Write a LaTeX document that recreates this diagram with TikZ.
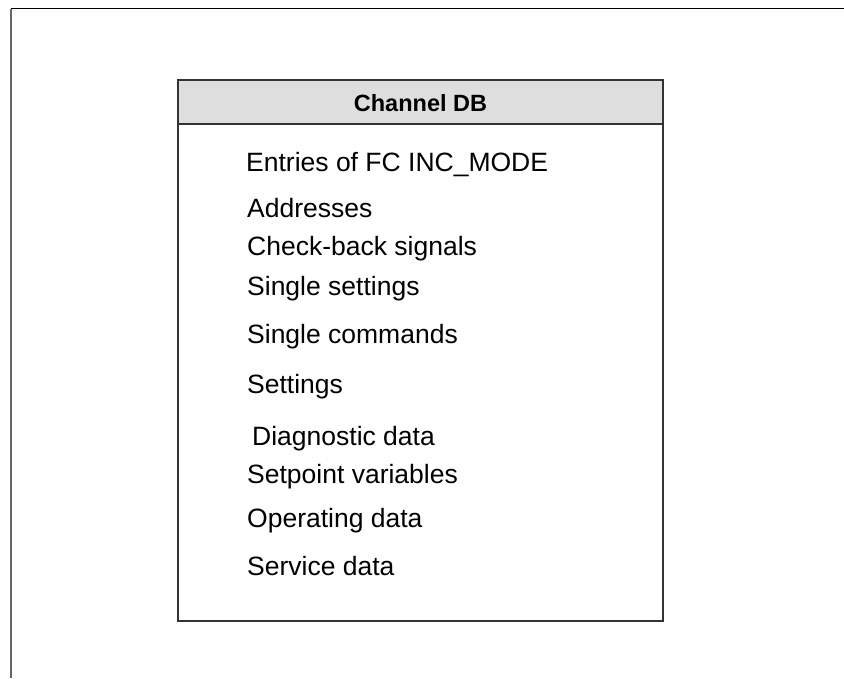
\documentclass[tikz,border=0pt]{standalone}
\usepackage{fontspec}
\setmainfont{Liberation Sans}
\begin{document}
\begin{tikzpicture}[x=1pt,y=-1pt,
  entry/.style={anchor=west,inner sep=0pt,font=\fontsize{26.5}{30}\selectfont},
  head/.style={inner sep=0pt,font=\fontsize{23.5}{27}\selectfont\bfseries}]
\useasboundingbox (0,0) rectangle (844,678);
\draw[black,line width=1.3pt] (11,8.5) -- (844,8.5);
\draw[black!60,line width=1.5pt] (11,8.5) -- (11,678);
\path[fill=black!13] (178,80) rectangle (663,124);
\draw[black!80,line width=1.5pt] (178,80) rectangle (663,621);
\draw[black!80,line width=1.5pt] (178,124) -- (663,124);
\node[head] (h) at (420.5,103) {Channel DB};
\node[entry] (e1) at (246,165) {Entries of FC INC\_MODE};
\node[entry] (e2) at (247,208) {Addresses};
\node[entry] (e3) at (247,249) {Check-back signals};
\node[entry] (e4) at (247,289) {Single settings};
\node[entry] (e5) at (247,337) {Single commands};
\node[entry] (e6) at (247,387) {Settings};
\node[entry] (e7) at (252,439) {Diagnostic data};
\node[entry] (e8) at (247,477) {Setpoint variables};
\node[entry] (e9) at (247,521) {Operating data};
\node[entry] (e10) at (247,566) {Service data};
\end{tikzpicture}
\end{document}
